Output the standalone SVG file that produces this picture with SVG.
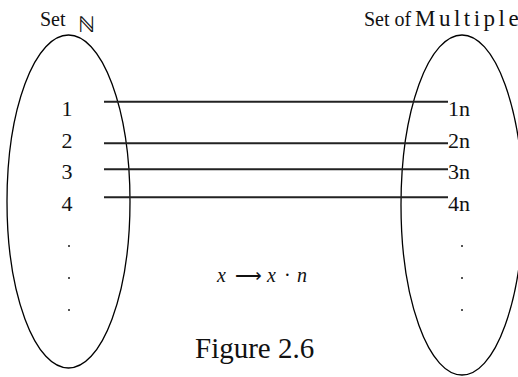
<svg xmlns="http://www.w3.org/2000/svg" width="518" height="377" viewBox="0 0 518 377">
<style>
.set{fill:none;stroke:#000;stroke-width:1.3}
.map{stroke:#222;stroke-width:2}
text{font-family:"Liberation Serif","Times New Roman",serif;fill:#111}
.num{font-size:22px;text-anchor:middle}
.lab{font-size:22px}
.ttl{font-size:20px}
.it{font-size:20px;font-style:italic}
.dot{fill:#555}
</style>
<rect width="518" height="377" fill="#fff"/>
<g id="setN">
<ellipse class="set" cx="68.5" cy="201.5" rx="61.5" ry="166.5"/>
<text class="ttl" x="40" y="26">Set</text>
<text x="78" y="32" font-size="22px" font-family="DejaVu Serif, serif">ℕ</text>
<text class="num" x="67" y="116">1</text>
<text class="num" x="67" y="148">2</text>
<text class="num" x="67" y="179">3</text>
<text class="num" x="67" y="211">4</text>
<rect class="dot" x="68" y="245" width="2" height="2"/>
<rect class="dot" x="68" y="277" width="2" height="2"/>
<rect class="dot" x="68" y="309" width="2" height="2"/>
</g>
<g id="setMultiples">
<ellipse class="set" cx="462" cy="205" rx="61" ry="170"/>
<text class="ttl" x="364" y="26">Set of</text>
<text x="415" y="26" font-size="23px" letter-spacing="3.5">Multiples</text>
<text class="lab" x="448" y="116">1n</text>
<text class="lab" x="448" y="148">2n</text>
<text class="lab" x="448" y="179">3n</text>
<text class="lab" x="448" y="211">4n</text>
<rect class="dot" x="461" y="245" width="2" height="2"/>
<rect class="dot" x="461" y="277" width="2" height="2"/>
<rect class="dot" x="461" y="309" width="2" height="2"/>
</g>
<g id="connectors">
<line class="map" x1="104" y1="101.7" x2="448" y2="101.7"/>
<line class="map" x1="104" y1="143.3" x2="448" y2="143.3"/>
<line class="map" x1="104" y1="169.3" x2="448" y2="169.3"/>
<line class="map" x1="104" y1="197.3" x2="448" y2="197.3"/>
</g>
<g id="labels">
<text class="it" x="217" y="282">x</text>
<text x="235" y="282" font-size="20px" font-family="DejaVu Serif, serif" textLength="27" lengthAdjust="spacingAndGlyphs">⟶</text>
<text class="it" x="267" y="282">x</text>
<text x="284" y="282" font-size="20px">·</text>
<text class="it" x="297" y="282">n</text>
<text x="195" y="358" font-size="29px">Figure 2.6</text>
</g>
</svg>
